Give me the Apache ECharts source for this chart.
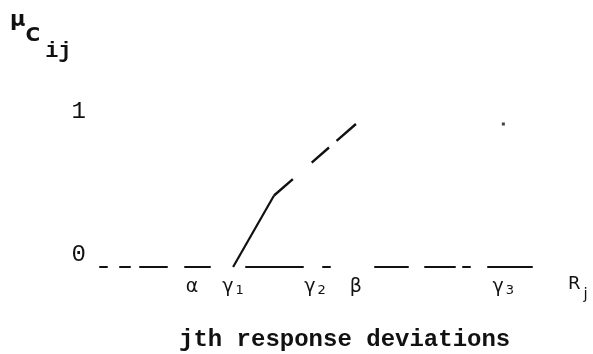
<!DOCTYPE html>
<html>
<head>
<meta charset="utf-8">
<style>
  html, body { margin: 0; padding: 0; background: #fff; }
  #chart { width: 593px; height: 354px; }
</style>
<script src="https://cdn.jsdelivr.net/npm/echarts@6/dist/echarts.min.js"></script>
</head>
<body>
<div id="chart"></div>
<script>
// Membership function of the j-th response deviation
const rampX = [3, 4];        // gamma1 -> knee, solid part
const rampY = [0, 0.5];
const upperX = [4, 6];       // knee -> beta, dashed part
const upperY = [0.5, 1];
const markX = [9.6];         // isolated point at full membership
const markY = [1];

// Points marked on the deviation axis
const tickValues = [2, 3, 5, 6, 9.6];
const tickLabels = ['{g|α}', '{g|γ}{s|1}', '{g|γ}{s|2}', '{g|β}', '{g|γ}{s|3}'];
const yTicks = [0, 1];

const FONT = '"Liberation Mono", "DejaVu Sans Mono", monospace';
const INK = '#111';

const pairs = (xs, ys) => xs.map((x, i) => [x, ys[i]]);

const chart = echarts.init(document.getElementById('chart'), null, { renderer: 'canvas' });

chart.setOption({
  animation: false,
  backgroundColor: '#fff',
  title: [
    {
      text: '{mu|μ}{c|C}{ij|ij}',
      left: 5,
      top: 5,
      textStyle: {
        rich: {
          mu: { fontFamily: 'DejaVu Sans', fontSize: 21, color: INK, lineHeight: 52, verticalAlign: 'top' },
          c: { fontFamily: 'DejaVu Sans', fontSize: 20, fontWeight: 'bold', color: INK, lineHeight: 52, verticalAlign: 'middle' },
          ij: { fontFamily: FONT, fontSize: 22, fontWeight: 'bold', color: INK, lineHeight: 52, verticalAlign: 'bottom', padding: [0, 0, 0, 5] }
        }
      }
    },
    {
      text: 'jth response deviations',
      left: 174,
      top: 323,
      textStyle: { fontFamily: FONT, fontSize: 24, fontWeight: 'bold', color: INK }
    }
  ],
  grid: { left: 100, right: 61, top: 124, bottom: 87, containLabel: false },
  xAxis: {
    type: 'value',
    min: -0.25,
    max: 10.3,
    name: '{r|R}{j|j}',
    nameLocation: 'end',
    nameGap: 36,
    nameTextStyle: {
      align: 'left',
      verticalAlign: 'top',
      padding: [8, 0, 0, 0],
      rich: {
        r: { fontFamily: 'DejaVu Sans', fontSize: 18, color: INK, lineHeight: 28, verticalAlign: 'top' },
        j: { fontFamily: 'DejaVu Sans', fontSize: 15, color: INK, lineHeight: 28, verticalAlign: 'bottom', padding: [0, 0, 0, 3] }
      }
    },
    axisLine: {
      show: true,
      lineStyle: {
        color: INK,
        width: 2,
        type: [7, 13, 10, 10, 27, 18, 25, 36, 57, 20, 7, 45, 33, 17, 30, 8, 7, 18, 44]
      }
    },
    axisTick: { show: false },
    splitLine: { show: false },
    axisLabel: {
      customValues: tickValues,
      margin: 8,
      formatter: (v) => tickLabels[tickValues.indexOf(v)] ?? '',
      rich: {
        g: { fontFamily: 'DejaVu Sans', fontSize: 19, color: INK, verticalAlign: 'bottom', lineHeight: 22 },
        s: { fontFamily: 'DejaVu Sans', fontSize: 13, color: INK, verticalAlign: 'bottom', lineHeight: 22, padding: [0, 0, 0, 2] }
      }
    }
  },
  yAxis: {
    type: 'value',
    min: 0,
    max: 1,
    interval: 1,
    axisLine: { show: false },
    axisTick: { show: false },
    splitLine: { show: false },
    axisLabel: {
      customValues: yTicks,
      margin: 14,
      verticalAlign: 'bottom',
      lineHeight: 24,
      fontFamily: FONT,
      fontSize: 24,
      color: INK
    }
  },
  series: [
    {
      type: 'line',
      data: pairs(rampX, rampY),
      symbol: 'none',
      lineStyle: { color: INK, width: 2.2 }
    },
    {
      type: 'line',
      data: pairs(upperX, upperY),
      symbol: 'none',
      lineStyle: { color: INK, width: 2.4, type: [25, 25, 23, 10, 40] }
    },
    {
      type: 'scatter',
      data: pairs(markX, markY),
      symbol: 'rect',
      symbolSize: 3,
      itemStyle: { color: INK }
    }
  ]
});
</script>
</body>
</html>
